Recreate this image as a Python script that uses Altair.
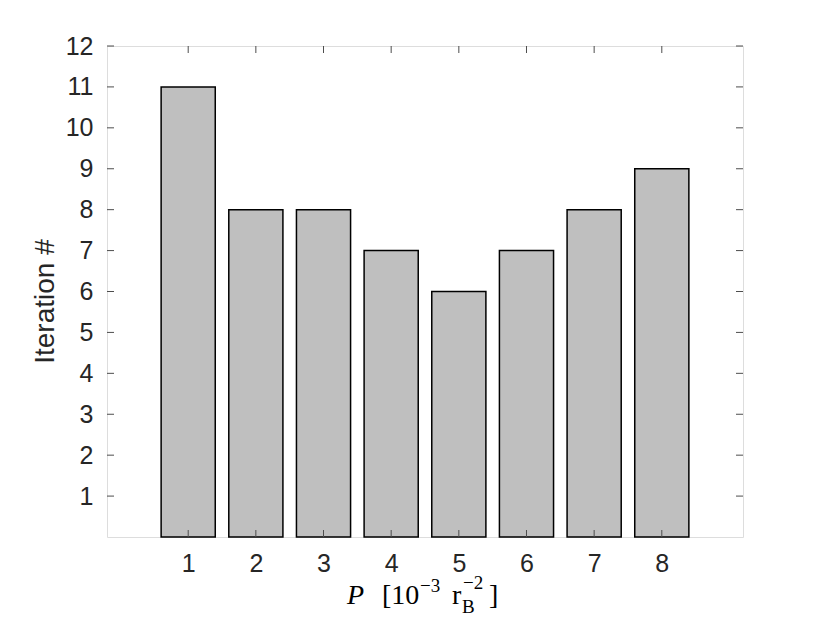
import altair as alt
import pandas as pd

# Data
P_values = [1, 2, 3, 4, 5, 6, 7, 8]
iterations = [11, 8, 8, 7, 6, 7, 8, 9]
x_ticks = [1, 2, 3, 4, 5, 6, 7, 8]
y_ticks = [1, 2, 3, 4, 5, 6, 7, 8, 9, 10, 11, 12]

W, H = 636, 491
TICK = 7
FRAME = "#4d4d4d"
LABEL_COLOR = "#262626"

df = pd.DataFrame({"P": P_values, "Iter": iterations})
xt = pd.DataFrame({"t": x_ticks})
yt = pd.DataFrame({"t": y_ticks})

xscale = alt.Scale(domain=[-0.2, 9.2], nice=False, zero=False)
yscale = alt.Scale(domain=[0, 12], nice=False)

xaxis = alt.Axis(values=x_ticks, format="d", labelFontSize=25, labelFont="Liberation Sans",
                 labelColor=LABEL_COLOR, domain=False, ticks=False, tickSize=0,
                 grid=False, title=None, labelPadding=14, labelFlush=False)
yaxis = alt.Axis(values=y_ticks, format="d", labelFontSize=25, labelFont="Liberation Sans",
                 labelColor=LABEL_COLOR, domain=False, ticks=False, tickSize=0,
                 grid=False, labelPadding=14, title="Iteration #",
                 titleFont="Liberation Sans", titleFontSize=28, titleFontWeight="normal",
                 titleColor=LABEL_COLOR, titleX=-54, titleY=255, titleAngle=270,
                 titleBaseline="alphabetic", titleAlign="center", labelFlush=False)

bars = alt.Chart(df).transform_calculate(
    x0="datum.P - 0.4", x1="datum.P + 0.4"
).mark_rect(fill="#bfbfbf", stroke="#000000", strokeWidth=1.5).encode(
    x=alt.X("x0:Q", scale=xscale, axis=xaxis),
    x2="x1:Q",
    y=alt.Y("Iter:Q", scale=yscale, axis=yaxis),
    y2=alt.datum(0),
)

tick_style = dict(color=FRAME, strokeWidth=1)
xt_bottom = alt.Chart(xt).mark_rule(**tick_style).encode(
    x=alt.X("t:Q", scale=xscale), y=alt.value(H - TICK), y2=alt.value(H))
xt_top = alt.Chart(xt).mark_rule(**tick_style).encode(
    x=alt.X("t:Q", scale=xscale), y=alt.value(0), y2=alt.value(TICK))
yt_left = alt.Chart(yt).mark_rule(**tick_style).encode(
    y=alt.Y("t:Q", scale=yscale), x=alt.value(0), x2=alt.value(TICK))
yt_right = alt.Chart(yt).mark_rule(**tick_style).encode(
    y=alt.Y("t:Q", scale=yscale), x=alt.value(W - TICK), x2=alt.value(W))

# X axis title composed of pieces (math-style label: P [10^-3 r_B^-2])
one = pd.DataFrame({"a": [0]})
OX, OY = 107, 46
pieces = [
    ("P", 347, 604, 28, "italic"),
    ("[10", 382, 604, 28, "normal"),
    ("\u22123", 420, 592, 19, "normal"),
    ("r", 452, 604, 28, "normal"),
    ("B", 462, 613, 19, "normal"),
    ("\u22122", 463, 589, 19, "normal"),
    ("]", 489, 604, 28, "normal"),
]
title_layers = []
for txt, px, py, fs, style in pieces:
    title_layers.append(
        alt.Chart(one).mark_text(
            text=txt, font="Liberation Serif", fontSize=fs, fontStyle=style,
            align="left", baseline="alphabetic", color="#000000"
        ).encode(x=alt.value(px - OX), y=alt.value(py - OY))
    )

chart = alt.layer(bars, xt_bottom, xt_top, yt_left, yt_right, *title_layers).properties(
    width=W, height=H,
    padding={"left": 99, "top": 38, "right": 70, "bottom": 80},
    autosize=alt.AutoSizeParams(type="none"),
).configure_view(stroke=FRAME, strokeWidth=1).configure(background="white")

chart.save("out.html", embed_options={"renderer": "svg", "actions": False})
